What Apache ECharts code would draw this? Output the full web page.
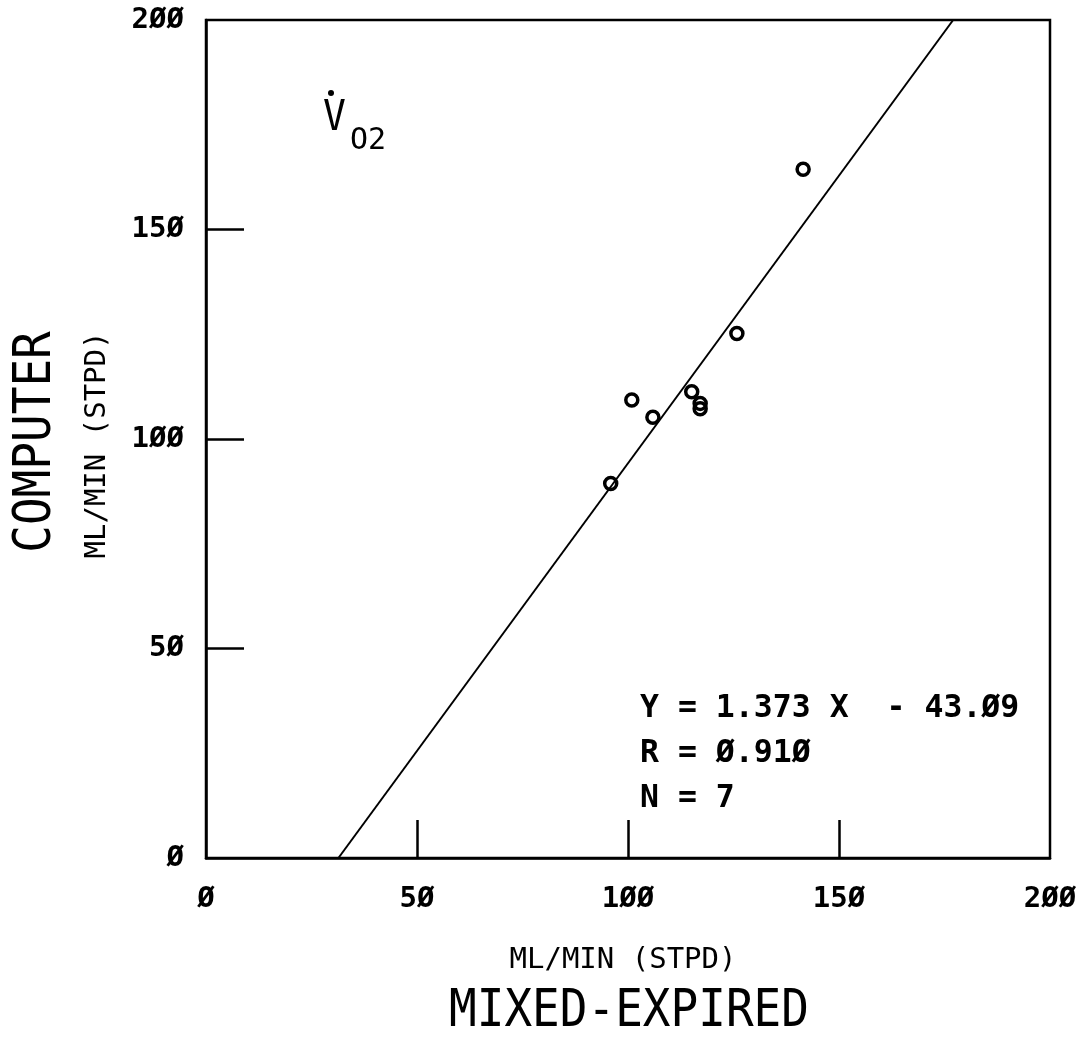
<!DOCTYPE html>
<html><head><meta charset="utf-8">
<script src="https://cdn.jsdelivr.net/npm/echarts@6/dist/echarts.min.js"></script>
<style>html,body{margin:0;padding:0;background:#fff}#c{width:1081px;height:1039px}</style>
</head><body><div id="c"></div>
<script>
const xVals = [95.9, 100.9, 105.9, 115.1, 117.1, 117.1, 125.8, 141.5];
const yVals = [89.4, 109.3, 105.2, 111.3, 108.5, 107.2, 125.2, 164.4];
const slope = 1.373, intercept = -43.09;
const fitX = [31.38, 177.05];
const tickValues = [50, 100, 150];
const eqLines = ['Y = 1.373 X  - 43.Ø9', 'R = Ø.91Ø', 'N = 7'];
const xTitle = 'MIXED-EXPIRED', yTitle = 'COMPUTER', unitLabel = 'ML/MIN (STPD)';

const pts = xVals.map((x, i) => [x, yVals[i]]);
const fit = fitX.map(x => [x, slope * x + intercept]);
const slash = v => String(v).replace(/0/g, 'Ø');
const mono = '"DejaVu Sans Mono", monospace';

const chart = echarts.init(document.getElementById('c'));
chart.setOption({
  animation: false,
  backgroundColor: '#fff',
  grid: { left: 206, right: 31, top: 20, bottom: 181, show: true, borderColor: '#000', borderWidth: 2.5, backgroundColor: 'transparent' },
  xAxis: {
    type: 'value', min: 0, max: 200, interval: 50,
    axisLine: { show: true, lineStyle: { color: '#000', width: 2.5 } },
    axisTick: { show: true, inside: true, length: 38, customValues: tickValues, lineStyle: { color: '#000', width: 2.5 } },
    splitLine: { show: false },
    axisLabel: { formatter: slash, color: '#000', fontFamily: mono, fontWeight: 'bold', fontSize: 29, margin: 27 }
  },
  yAxis: {
    type: 'value', min: 0, max: 200, interval: 50,
    axisLine: { show: true, lineStyle: { color: '#000', width: 2.5 } },
    axisTick: { show: true, inside: true, length: 38, customValues: tickValues, lineStyle: { color: '#000', width: 2.5 } },
    splitLine: { show: false },
    axisLabel: { formatter: slash, color: '#000', fontFamily: mono, fontWeight: 'bold', fontSize: 29, margin: 22 }
  },
  series: [
    { type: 'line', data: fit, symbol: 'none', lineStyle: { color: '#000', width: 2 }, z: 2 },
    { type: 'scatter', data: pts, symbol: 'circle', symbolSize: 12,
      itemStyle: { color: 'rgba(255,255,255,0)', borderColor: '#000', borderWidth: 3.5, opacity: 1 }, z: 3 }
  ],
  graphic: [
    { type: 'text', x: 629, y: 1013, scaleY: 1.12, style: { text: xTitle, fill: '#000', font: '46px ' + mono, align: 'center', verticalAlign: 'middle' } },
    { type: 'text', x: 623, y: 960, style: { text: unitLabel, fill: '#000', font: '29px ' + mono, align: 'center', verticalAlign: 'middle' } },
    { type: 'text', x: 37, y: 442, rotation: Math.PI / 2, scaleY: 1.12, style: { text: yTitle, fill: '#000', font: '46px ' + mono, align: 'center', verticalAlign: 'middle' } },
    { type: 'text', x: 97, y: 445, rotation: Math.PI / 2, style: { text: unitLabel, fill: '#000', font: '29px ' + mono, align: 'center', verticalAlign: 'middle' } },
    { type: 'text', x: 323, y: 119, scaleY: 1.12, style: { text: 'V', fill: '#000', font: '38px ' + mono, verticalAlign: 'middle' } },
    { type: 'circle', shape: { cx: 331, cy: 93, r: 3 }, style: { fill: '#000' } },
    { type: 'text', x: 350, y: 141, style: { text: 'O2', fill: '#000', font: '30px ' + mono, verticalAlign: 'middle' } },
    { type: 'text', x: 640, y: 709, style: { text: eqLines[0], fill: '#000', font: 'bold 31.5px ' + mono, verticalAlign: 'middle' } },
    { type: 'text', x: 640, y: 754, style: { text: eqLines[1], fill: '#000', font: 'bold 31.5px ' + mono, verticalAlign: 'middle' } },
    { type: 'text', x: 640, y: 799, style: { text: eqLines[2], fill: '#000', font: 'bold 31.5px ' + mono, verticalAlign: 'middle' } }
  ]
});
</script></body></html>
